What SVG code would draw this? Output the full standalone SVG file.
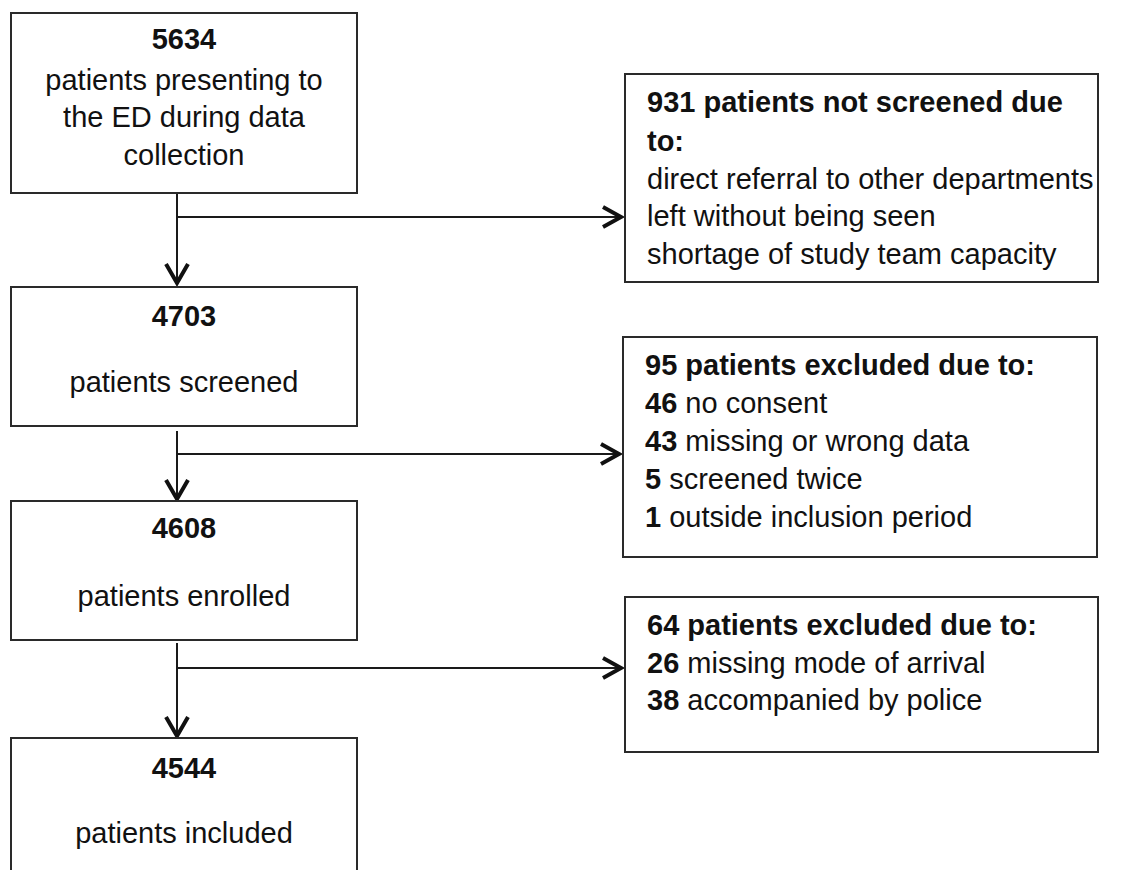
<svg xmlns="http://www.w3.org/2000/svg" width="1122" height="870" viewBox="0 0 1122 870">
<style>
.box{fill:#fff;stroke:#2a2a2a;stroke-width:2}
.t{font-family:"Liberation Sans",Arial,sans-serif;font-size:29px;fill:#111}
.c{text-anchor:middle}
.b{font-weight:bold}
.ln{fill:none;stroke:#1a1a1a;stroke-width:2}
.ah{fill:none;stroke:#111;stroke-width:4;stroke-linejoin:miter;stroke-linecap:butt}
</style>
<rect width="1122" height="870" fill="#fff"/>
<g id="connectors">
<line class="ln" x1="177" y1="193" x2="177" y2="284"/>
<line class="ln" x1="177" y1="217" x2="621" y2="217"/>
<line class="ln" x1="177" y1="431" x2="177" y2="499"/>
<line class="ln" x1="177" y1="454" x2="619" y2="454"/>
<line class="ln" x1="177" y1="643" x2="177" y2="736"/>
<line class="ln" x1="177" y1="668" x2="621" y2="668"/>
<polyline class="ah" points="166,264 177,283 188,264"/>
<polyline class="ah" points="166,480 177,499 188,480"/>
<polyline class="ah" points="166,717 177,736 188,717"/>
<polyline class="ah" points="603,207 621,217 603,227"/>
<polyline class="ah" points="601,444 619,454 601,464"/>
<polyline class="ah" points="603,658 621,668 603,678"/>
</g>
<g id="n5634">
<rect class="box" x="11" y="13" width="346" height="180"/>
<text class="t c b" x="184" y="49">5634</text>
<text class="t c" x="184" y="90">patients presenting to</text>
<text class="t c" x="184" y="127">the ED during data</text>
<text class="t c" x="184" y="165">collection</text>
</g>
<g id="n4703">
<rect class="box" x="11" y="287" width="346" height="139"/>
<text class="t c b" x="184" y="326">4703</text>
<text class="t c" x="184" y="392">patients screened</text>
</g>
<g id="n4608">
<rect class="box" x="11" y="501" width="346" height="139"/>
<text class="t c b" x="184" y="538">4608</text>
<text class="t c" x="184" y="606">patients enrolled</text>
</g>
<g id="n4544">
<rect class="box" x="11" y="738" width="346" height="150"/>
<text class="t c b" x="184" y="778">4544</text>
<text class="t c" x="184" y="843">patients included</text>
</g>
<g id="n931">
<rect class="box" x="625" y="74" width="473" height="208"/>
<text class="t b" x="647" y="112">931 patients not screened due</text>
<text class="t b" x="647" y="151">to:</text>
<text class="t" x="647" y="189">direct referral to other departments</text>
<text class="t" x="647" y="226">left without being seen</text>
<text class="t" x="647" y="264">shortage of study team capacity</text>
</g>
<g id="n95">
<rect class="box" x="623" y="337" width="474" height="220"/>
<text class="t b" x="645" y="375">95 patients excluded due to:</text>
<text class="t" x="645" y="413"><tspan class="b">46</tspan> no consent</text>
<text class="t" x="645" y="451"><tspan class="b">43</tspan> missing or wrong data</text>
<text class="t" x="645" y="489"><tspan class="b">5</tspan> screened twice</text>
<text class="t" x="645" y="527"><tspan class="b">1</tspan> outside inclusion period</text>
</g>
<g id="n64">
<rect class="box" x="625" y="597" width="473" height="155"/>
<text class="t b" x="647" y="635">64 patients excluded due to:</text>
<text class="t" x="647" y="673"><tspan class="b">26</tspan> missing mode of arrival</text>
<text class="t" x="647" y="710"><tspan class="b">38</tspan> accompanied by police</text>
</g>
</svg>
